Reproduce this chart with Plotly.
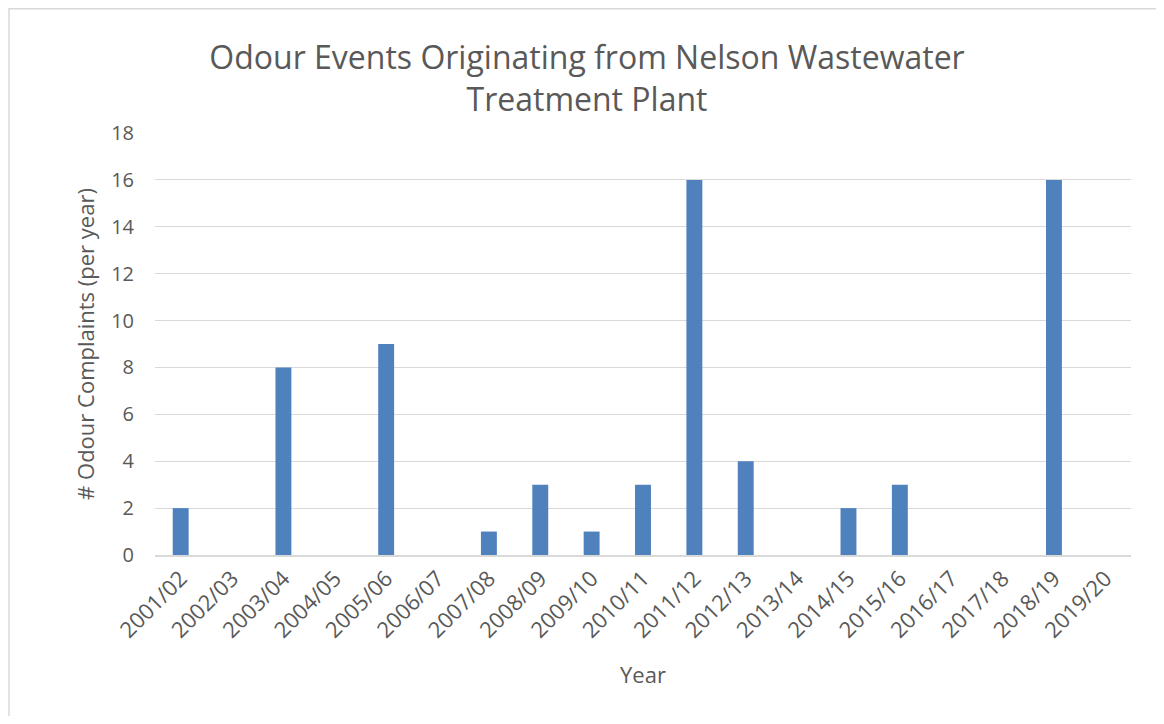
import plotly.graph_objects as go

years = ["2001/02", "2002/03", "2003/04", "2004/05", "2005/06", "2006/07", "2007/08",
         "2008/09", "2009/10", "2010/11", "2011/12", "2012/13", "2013/14", "2014/15",
         "2015/16", "2016/17", "2017/18", "2018/19", "2019/20"]
complaints = [2, 0, 8, 0, 9, 0, 1, 3, 1, 3, 16, 4, 0, 2, 3, 0, 0, 16, 0]
y_ticks = list(range(0, 19, 2))

# the page body adds an 8px margin, so the figure is 16px smaller than the window
W, H = 1148, 708
L, R, T, B = 147, 25, 125, 161
pw, ph = W - L - R, H - T - B

FONT = "Open Sans, Liberation Sans, sans-serif"
GREY = "#595959"

fig = go.Figure(
    go.Bar(
        x=years,
        y=complaints,
        marker={"color": "#4F81BD", "line": {"width": 0}},
    )
)

fig.update_layout(
    width=W,
    height=H,
    margin={"l": L, "r": R, "t": T, "b": B, "autoexpand": False},
    plot_bgcolor="white",
    paper_bgcolor="white",
    bargap=0.69,
    showlegend=False,
    font={"family": FONT, "color": GREY},
    title={
        "text": "Odour Events Originating from Nelson Wastewater<br>Treatment Plant",
        "x": 579 / W,
        "xanchor": "center",
        "y": 1 - 61 / H,
        "yanchor": "middle",
        "font": {"size": 32, "color": GREY},
    },
    xaxis={
        "type": "category",
        "tickangle": -45,
        "tickfont": {"size": 22},
        "showgrid": False,
        "showline": True,
        "linecolor": "#d9d9d9",
        "linewidth": 2,
        "ticks": "",
        "title": {"text": "Year", "font": {"size": 22}, "standoff": 25},
    },
    yaxis={
        "range": [0, 18],
        "tickvals": y_ticks,
        "tickfont": {"size": 20},
        "gridcolor": "#d9d9d9",
        "gridwidth": 1,
        "zeroline": False,
        "ticks": "",
        "ticklabelstandoff": 20,
        "title": {"text": "# Odour Complaints (per year)", "font": {"size": 22}, "standoff": 10},
    },
)

# outer chart border (light grey frame)
fig.add_shape(
    type="rect",
    xref="paper",
    yref="paper",
    x0=(1 - L) / pw,
    x1=(W + 4 - L) / pw,
    y0=-(H + 4 - (H - B)) / ph,
    y1=1 + (T - 0.75) / ph,
    line={"color": "#d9d9d9", "width": 1.5},
    layer="below",
)

fig.write_html("out.html")
